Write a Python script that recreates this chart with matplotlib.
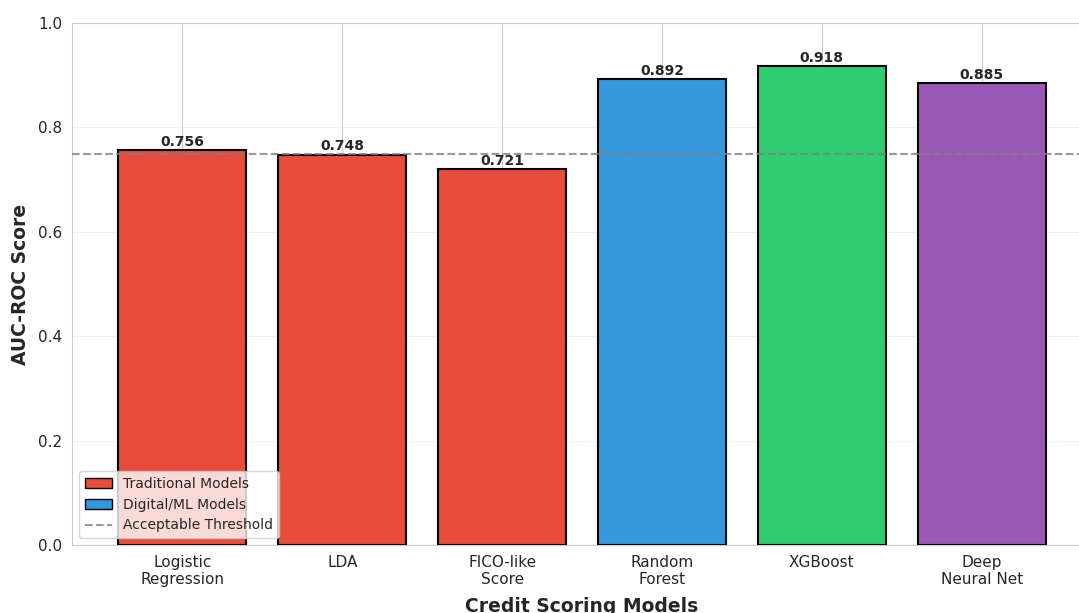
import matplotlib
matplotlib.use("Agg")
import matplotlib.pyplot as plt
import seaborn as sns
from matplotlib.patches import Patch
from matplotlib.lines import Line2D

sns.set_style("whitegrid")
plt.rcParams['font.family'] = ['DejaVu Sans']

models = ["Logistic\nRegression", "LDA", "FICO-like\nScore", "Random\nForest", "XGBoost", "Deep\nNeural Net"]
auc = [0.756, 0.748, 0.721, 0.892, 0.918, 0.885]
colors = ["#e74c3c", "#e74c3c", "#e74c3c", "#3498db", "#2ecc71", "#9b59b6"]
threshold = 0.75

W, H = 1079, 613
fig = plt.figure(figsize=(W / 100, H / 100), dpi=100)
ax = fig.add_axes([72 / W, (H - 545) / H, (1092 - 72) / W, 522 / H])

x = list(range(len(models)))
bars = ax.bar(x, auc, width=0.8, color=colors, edgecolor="black", linewidth=1.5, zorder=3)
ax.axhline(threshold, color="gray", linestyle="--", linewidth=1.5, alpha=0.8, zorder=4)

for b, v in zip(bars, auc):
    ax.text(b.get_x() + b.get_width() / 2, v + 0.002, f"{v:.3f}", ha="center", va="bottom",
            fontsize=10, fontweight="bold", color="#262626", zorder=5)

ax.set_xticks(x)
ax.set_xticklabels(models, fontsize=11)
ax.set_ylim(0, 1.0)
ax.tick_params(axis="y", labelsize=11)
ax.grid(axis="y", alpha=0.3)
ax.set_ylabel("AUC-ROC Score", fontsize=13.5, fontweight="bold", labelpad=6)
ax.set_xlabel("Credit Scoring Models", fontsize=13.5, fontweight="bold", labelpad=7)

handles = [
    Patch(facecolor="#e74c3c", edgecolor="black", label="Traditional Models"),
    Patch(facecolor="#3498db", edgecolor="black", label="Digital/ML Models"),
    Line2D([0], [0], color="gray", linestyle="--", alpha=0.8, label="Acceptable Threshold"),
]
ax.legend(handles=handles, loc="lower left", fontsize=10)

fig.savefig("out.png", dpi=100)
